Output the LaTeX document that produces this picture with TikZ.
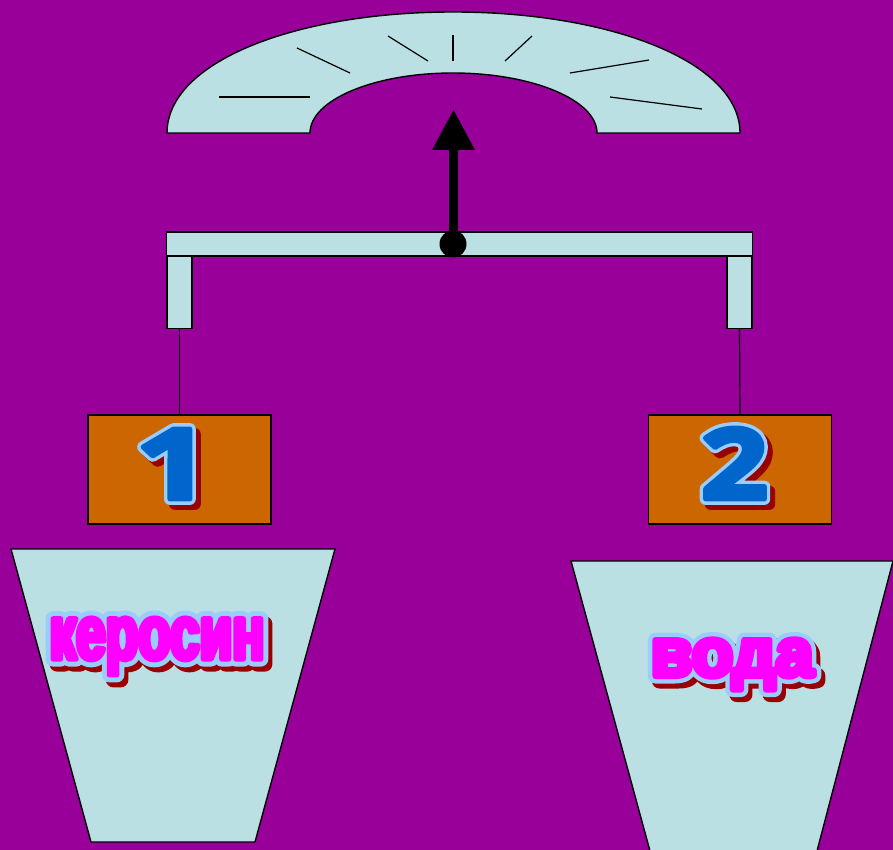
\documentclass[tikz,border=0pt]{standalone}
\usepackage{fontspec}
\setmainfont{Liberation Sans}
\definecolor{bg}{HTML}{990099}
\definecolor{pale}{HTML}{BBE0E3}
\definecolor{boxc}{HTML}{CC6600}
\definecolor{shade}{HTML}{990000}
\definecolor{rim}{HTML}{99CCFF}
\definecolor{digit}{HTML}{0066CC}
\definecolor{word}{HTML}{FF00FF}
% Layered lettering: shadow, rim and face stacked in one box
\newcommand{\layered}[9]{% font, size, stretch, face colour, text, dx, dy, rim bold, face bold
  \special{pdf:code 1 j 1 J}%
  \fontsize{#2}{#2}%
  \rlap{\kern#6\raisebox{#7}{\fontspec{#1}[FakeStretch=#3,FakeBold=#8]\color{shade}#5}}%
  \rlap{\fontspec{#1}[FakeStretch=#3,FakeBold=#8]\color{rim}#5}%
  {\fontspec{#1}[FakeStretch=#3,FakeBold=#9]\color{#4}#5}}
\tikzset{
  panel/.style={draw=black,line width=1.4pt,fill=pale},
  slab/.style={panel,rectangle,inner sep=0pt,outer sep=0pt},
  weight/.style={draw=black,line width=1.4pt,fill=boxc,rectangle,inner sep=0pt,outer sep=0pt,minimum width=183pt,minimum height=109pt},
  wire/.style={draw=black,line width=1.2pt},
  tick/.style={draw=black,line width=1.2pt},
  label/.style={inner sep=0pt,outer sep=0pt,anchor=base}
}
\begin{document}
\begin{tikzpicture}[x=1pt,y=-1pt]
\useasboundingbox (0,0) rectangle (893,850);
\fill[bg] (0,0) rectangle (893,850);
% gauge
\draw[panel] (167,133) .. controls (167,62) and (295,12) .. (453,12)
  .. controls (611,12) and (740,62) .. (740,133) -- (597,133)
  .. controls (597,100) and (532,73) .. (453,73)
  .. controls (374,73) and (310,100) .. (310,133) -- cycle;
\draw[tick] (219,97) -- (310,97);
\draw[tick] (297,48) -- (350,73);
\draw[tick] (388,36) -- (428,61);
\draw[tick] (453,35) -- (453,61);
\draw[tick] (505,61) -- (532,36);
\draw[tick] (570,73) -- (649,60);
\draw[tick] (610,97) -- (702,109);
% beam and legs
\node[slab,minimum width=25pt,minimum height=72pt] (legL) at (179.5,292.5) {};
\node[slab,minimum width=25pt,minimum height=72pt] (legR) at (739.5,292.5) {};
\node[slab,minimum width=586pt,minimum height=24pt] (beam) at (459.5,244) {};
% pointer
\node[circle,fill=black,inner sep=0pt,minimum size=27pt] (pivot) at (453,244) {};
\coordinate (tip) at (453.5,110);
\draw[black,line width=9pt] (tip |- pivot) -- (453.5,148);
\fill[black] (tip) -- (475,150) -- (432,150) -- cycle;
% weights
\node[weight] (w1) at (179.5,469.5) {};
\node[weight] (w2) at (740,469.5) {};
\draw[wire] (legL.south) -- (w1.north);
\draw[wire] (legR.south) -- (w2.north);
\node[label] (n1) at (173,499) {\layered{Open Sans Bold}{98pt}{1.35}{digit}{1}{5pt}{-5pt}{12}{5}};
\node[label] (n2) at (734.5,499) {\layered{Open Sans Bold}{98pt}{1.2}{digit}{2}{5pt}{-5pt}{12}{5}};
% vessels
\draw[panel] (11,549) -- (335,549) -- (255,842) -- (91,842) -- cycle;
\draw[panel] (571,561) -- (893,561) -- (817,851) -- (650,851) -- cycle;
\node[label] (kero) at (157,659) {\layered{Liberation Sans Bold}{76pt}{0.70}{word}{керосин}{4pt}{-5pt}{20}{7}};
\node[label] (water) at (732,676) {\layered{Liberation Sans Bold}{68pt}{1.0}{word}{вода}{4pt}{-5pt}{22}{9}};
\end{tikzpicture}
\end{document}
